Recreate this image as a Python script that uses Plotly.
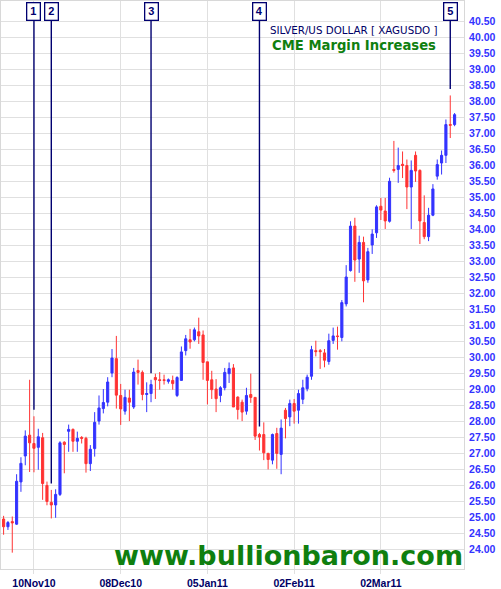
import plotly.graph_objects as go
import pandas as pd

# trading days (weekdays) 1 Nov 2010 .. 25 Mar 2011
dates = pd.bdate_range("2010-11-01", "2011-03-25").strftime("%Y-%m-%d").tolist()

opens = [24.96, 24.72, 24.88, 24.80, 26.12, 26.93, 27.58, 27.32, 27.20, 27.50,
         26.01, 25.48, 25.40, 25.73, 27.36, 27.70, 27.76, 27.39, 27.51, 27.48,
         26.69, 27.16, 28.02, 28.41, 28.61, 29.52, 29.97, 28.82, 28.33, 28.74,
         28.46, 29.60, 29.54, 28.85, 28.88, 29.38, 29.31, 29.31, 29.26, 29.29,
         28.82, 29.29, 30.22, 30.56, 30.56, 30.81, 30.71, 29.87, 29.31, 29.02,
         28.82, 29.06, 29.50, 29.68, 28.77, 28.61, 28.33, 28.85, 28.76, 27.60,
         27.60, 27.01, 26.80, 27.63, 26.98, 28.36, 28.15, 28.57, 28.36, 28.70,
         29.03, 29.42, 30.22, 30.22, 30.15, 29.88, 30.54, 30.68, 30.63, 31.68,
         32.72, 34.11, 33.08, 33.60, 32.43, 33.52, 33.90, 34.73, 34.58, 34.26,
         35.88, 35.88, 36.04, 36.00, 35.33, 36.32, 35.85, 34.22, 33.78, 34.45,
         35.67, 36.08, 36.32, 37.28, 37.28]

highs = [25.06, 24.90, 25.04, 26.36, 26.89, 27.73, 29.31, 28.17, 27.78, 27.65,
         26.13, 25.87, 25.89, 27.39, 27.39, 27.91, 27.79, 27.69, 27.55, 27.53,
         27.27, 28.30, 28.82, 29.02, 29.39, 30.27, 30.68, 29.18, 29.00, 29.00,
         29.68, 29.94, 29.60, 29.23, 29.31, 29.50, 29.55, 29.47, 29.35, 29.44,
         29.42, 30.35, 30.71, 30.90, 30.94, 31.25, 30.85, 29.87, 29.59, 29.33,
         29.11, 29.68, 29.85, 29.80, 28.79, 28.69, 29.06, 29.50, 28.76, 27.65,
         27.98, 27.03, 27.63, 27.81, 28.07, 28.43, 28.69, 28.71, 29.00, 29.31,
         29.47, 30.37, 30.53, 30.27, 30.27, 30.75, 30.94, 30.97, 31.80, 32.89,
         34.26, 34.37, 33.81, 33.78, 33.43, 34.01, 34.76, 34.99, 34.99, 35.62,
         36.77, 36.56, 36.44, 36.19, 36.16, 36.44, 35.88, 35.07, 34.68, 35.42,
         36.19, 36.47, 37.44, 38.19, 37.64]

lows = [24.47, 24.62, 23.91, 24.78, 25.81, 26.64, 26.43, 26.42, 26.50, 25.56,
        25.39, 24.98, 25.00, 25.68, 26.39, 27.06, 27.06, 27.06, 27.32, 26.41,
        26.46, 26.91, 27.91, 28.26, 28.48, 29.39, 28.41, 27.90, 28.22, 28.02,
        28.40, 29.16, 28.67, 28.30, 28.61, 28.71, 29.00, 29.16, 29.19, 29.00,
        28.77, 29.29, 30.07, 30.28, 30.51, 30.43, 29.31, 28.54, 28.71, 28.30,
        28.61, 28.98, 29.21, 28.46, 28.07, 28.02, 28.22, 28.59, 27.43, 27.10,
        26.80, 26.51, 26.67, 26.53, 26.36, 27.48, 27.86, 27.94, 27.94, 28.55,
        28.95, 29.31, 30.04, 29.65, 29.70, 29.78, 30.43, 30.25, 30.51, 31.60,
        32.69, 32.37, 32.65, 31.73, 32.34, 33.24, 33.74, 34.30, 34.02, 34.22,
        35.78, 35.46, 35.61, 34.64, 34.02, 35.49, 33.55, 33.70, 33.64, 34.42,
        35.56, 35.72, 36.08, 36.86, 37.23]

closes = [24.72, 24.85, 24.84, 26.14, 26.70, 27.55, 27.34, 27.17, 27.53, 26.07,
          25.51, 25.40, 25.73, 27.34, 27.29, 27.76, 27.39, 27.48, 27.48, 26.69,
          27.14, 27.98, 28.43, 28.60, 29.24, 29.99, 28.83, 28.40, 28.76, 28.61,
          29.55, 29.54, 28.85, 28.88, 29.16, 29.31, 29.29, 29.29, 29.31, 29.19,
          29.38, 30.18, 30.59, 30.49, 30.87, 30.68, 29.85, 29.29, 29.00, 28.72,
          29.06, 29.54, 29.66, 28.46, 28.38, 28.30, 28.82, 28.76, 27.55, 27.52,
          27.03, 26.82, 27.60, 27.01, 27.80, 28.10, 28.57, 28.33, 28.88, 29.06,
          29.39, 30.25, 30.19, 30.19, 29.92, 30.53, 30.68, 30.66, 31.72, 32.52,
          34.11, 33.05, 33.60, 32.40, 33.31, 33.86, 34.71, 34.61, 34.27, 35.51,
          35.85, 36.00, 36.00, 35.33, 35.85, 35.83, 34.27, 33.78, 34.45, 35.27,
          36.03, 36.32, 37.28, 37.26, 37.59]

tick_dates = ["2010-11-10", "2010-12-08", "2011-01-05", "2011-02-02", "2011-03-02"]
tick_labels = ["10Nov10", "08Dec10", "05Jan11", "02Feb11", "02Mar11"]

price_ticks = [24.0, 24.5, 25.0, 25.5, 26.0, 26.5, 27.0, 27.5, 28.0, 28.5,
               29.0, 29.5, 30.0, 30.5, 31.0, 31.5, 32.0, 32.5, 33.0, 33.5,
               34.0, 34.5, 35.0, 35.5, 36.0, 36.5, 37.0, 37.5, 38.0, 38.5,
               39.0, 39.5, 40.0, 40.5]

margin_dates = ["2010-11-10", "2010-11-16", "2010-12-17", "2011-01-21", "2011-03-24"]
margin_labels = ["1", "2", "3", "4", "5"]

title_text = "SILVER/US DOLLAR [ XAGUSDO ]"
subtitle_text = "CME Margin Increases"
site_text = "www.bullionbaron.com"

BLUE = "#3333ff"
RED = "#ff3333"
NAVY = "#000070"
GREEN = "#0f7f0f"
GRID = "#e0e0e0"

fig = go.Figure()
fig.add_trace(go.Candlestick(
    x=dates, open=opens, high=highs, low=lows, close=closes,
    increasing=dict(line=dict(color=BLUE, width=1), fillcolor=BLUE),
    decreasing=dict(line=dict(color=RED, width=1), fillcolor=RED),
    whiskerwidth=0, showlegend=False, hoverinfo="skip",
))

annotations = []
for d, lab in zip(margin_dates, margin_labels):
    i = dates.index(d)
    annotations.append(dict(
        x=d, y=highs[i] + 0.2, xref="x", yref="y",
        ax=0, ay=40.80, axref="pixel", ayref="y",
        text="<b>%s</b>" % lab, showarrow=True, arrowhead=0, arrowwidth=1.4,
        arrowcolor=NAVY, standoff=0, startstandoff=0,
        bordercolor=NAVY, borderwidth=1.3, borderpad=1, bgcolor="white",
        width=10, height=14,
        font=dict(family="Liberation Sans, Arial", size=11, color=NAVY),
    ))

annotations.append(dict(
    x=440 / 464, y=1 - 29 / 570, xref="paper", yref="paper",
    text=title_text, showarrow=False, xanchor="right", yanchor="middle",
    font=dict(family="DejaVu Sans", size=10.3, color="#000066"),
))
annotations.append(dict(
    x=438 / 464, y=1 - 45 / 570, xref="paper", yref="paper",
    text="<b>%s</b>" % subtitle_text, showarrow=False, xanchor="right", yanchor="middle",
    font=dict(family="DejaVu Sans", size=13.2, color=GREEN),
))
annotations.append(dict(
    x=288.5 / 464, y=1 - 556 / 570, xref="paper", yref="paper",
    text="<b>%s</b>" % site_text, showarrow=False, xanchor="center", yanchor="middle",
    font=dict(family="DejaVu Sans", size=27, color=GREEN),
))

fig.update_layout(
    width=501, height=589,
    margin=dict(l=0, r=37, t=0, b=19),
    paper_bgcolor="white", plot_bgcolor="white",
    showlegend=False,
    annotations=annotations,
    xaxis=dict(
        type="category", range=[-0.6, 106.17],
        tickmode="array", tickvals=tick_dates, ticktext=tick_labels,
        showgrid=True, gridcolor=GRID, gridwidth=1,
        ticks="outside", ticklen=4, tickcolor=GRID,
        showline=True, linecolor="#d8d8d8", linewidth=1, mirror=True,
        tickfont=dict(family="Liberation Sans, Arial", size=10.5, color="#000066", weight="bold"),
        rangeslider=dict(visible=False), fixedrange=True,
    ),
    yaxis=dict(
        side="right", range=[23.40, 41.14],
        tickmode="array", tickvals=price_ticks,
        ticktext=["%.2f" % v for v in price_ticks],
        showgrid=True, gridcolor=GRID, gridwidth=1,
        ticks="", ticklabelstandoff=2,
        showline=True, linecolor="#d8d8d8", linewidth=1, mirror=True,
        zeroline=False,
        tickfont=dict(family="Liberation Sans, Arial", size=10.5, color="#3333ff", weight="bold"),
        fixedrange=True,
    ),
)

fig.write_html(
    "out.html",
    config={"displayModeBar": False, "staticPlot": True},
    post_script="document.body.style.margin='0';document.body.style.overflow='hidden';",
)
